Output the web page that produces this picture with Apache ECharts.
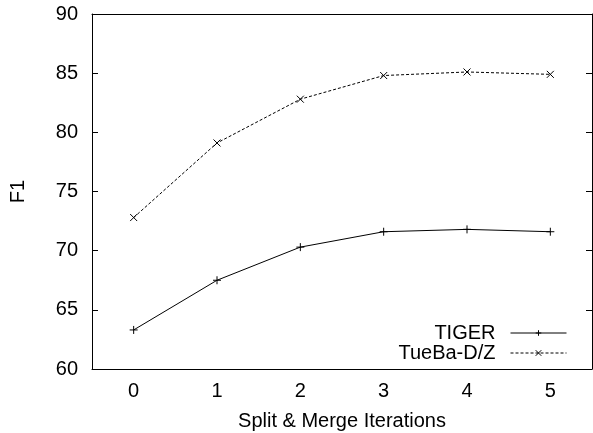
<!DOCTYPE html>
<html>
<head>
<meta charset="utf-8">
<script src="https://cdn.jsdelivr.net/npm/echarts@6/dist/echarts.min.js"></script>
<style>
html, body { margin: 0; padding: 0; background: #fff; }
#main { width: 593px; height: 433px; }
</style>
</head>
<body>
<div id="main"></div>
<script>
var iterations = ['0', '1', '2', '3', '4', '5'];
var tiger = [63.3, 67.5, 70.3, 71.6, 71.8, 71.6];
var tueba = [72.8, 79.1, 82.8, 84.8, 85.1, 84.9];

var plusSymbol = 'path://M0,-5L0,5M-5,0L5,0';
var crossSymbol = 'path://M-5,-5L5,5M-5,5L5,-5';
var font = 'Liberation Sans, Arial, Helvetica, sans-serif';

var chart = echarts.init(document.getElementById('main'));

var axisLine = { lineStyle: { color: '#000', width: 1 } };
var tick = { inside: true, length: 6, alignWithLabel: true, lineStyle: { color: '#000' } };

chart.setOption({
    animation: false,
    backgroundColor: '#fff',
    textStyle: { fontFamily: font },
    grid: { left: 92, right: 1, top: 14, bottom: 64, outerBoundsMode: 'none', containLabel: false },
    legend: {
        right: 21,
        bottom: 65,
        orient: 'vertical',
        align: 'right',
        itemGap: 0,
        itemWidth: 56,
        itemHeight: 7,
        lineStyle: { width: 1 },
        itemStyle: { borderWidth: 1 },
        textStyle: { fontSize: 20, color: '#000', fontFamily: font, padding: [0, 10, 0, 0] },
        data: ['TIGER', 'TueBa-D/Z']
    },
    xAxis: [{
        type: 'category',
        data: iterations,
        boundaryGap: true,
        name: 'Split & Merge Iterations',
        nameLocation: 'middle',
        nameGap: 42,
        nameTextStyle: { fontSize: 20, color: '#000', fontFamily: font },
        axisLine: axisLine,
        axisTick: tick,
        axisLabel: { fontSize: 20, color: '#000', margin: 12, fontFamily: font },
        splitLine: { show: false }
    }, {
        type: 'category',
        data: iterations,
        position: 'top',
        boundaryGap: true,
        axisLine: axisLine,
        axisTick: tick,
        axisLabel: { show: false },
        splitLine: { show: false }
    }],
    yAxis: [{
        type: 'value',
        min: 60,
        max: 90,
        interval: 5,
        name: 'F1',
        nameLocation: 'middle',
        nameGap: 64,
        nameRotate: 90,
        nameTextStyle: { fontSize: 20, color: '#000', fontFamily: font },
        axisLine: { show: true, lineStyle: { color: '#000', width: 1 } },
        axisTick: { show: true, inside: true, length: 6, lineStyle: { color: '#000' } },
        axisLabel: { fontSize: 20, color: '#000', margin: 14, fontFamily: font },
        splitLine: { show: false }
    }, {
        type: 'value',
        min: 60,
        max: 90,
        interval: 5,
        position: 'right',
        axisLine: { show: true, lineStyle: { color: '#000', width: 1 } },
        axisTick: { show: true, inside: true, length: 6, lineStyle: { color: '#000' } },
        axisLabel: { show: false },
        splitLine: { show: false }
    }],
    series: [{
        name: 'TIGER',
        type: 'line',
        data: tiger,
        symbol: plusSymbol,
        symbolSize: 8,
        lineStyle: { color: '#000', width: 1 },
        itemStyle: { color: 'rgba(0,0,0,0)', borderColor: '#000', borderWidth: 1 }
    }, {
        name: 'TueBa-D/Z',
        type: 'line',
        data: tueba,
        symbol: crossSymbol,
        symbolSize: 7,
        lineStyle: { color: '#000', width: 1, type: [3, 2] },
        itemStyle: { color: 'rgba(0,0,0,0)', borderColor: '#000', borderWidth: 1 }
    }]
});
</script>
</body>
</html>
